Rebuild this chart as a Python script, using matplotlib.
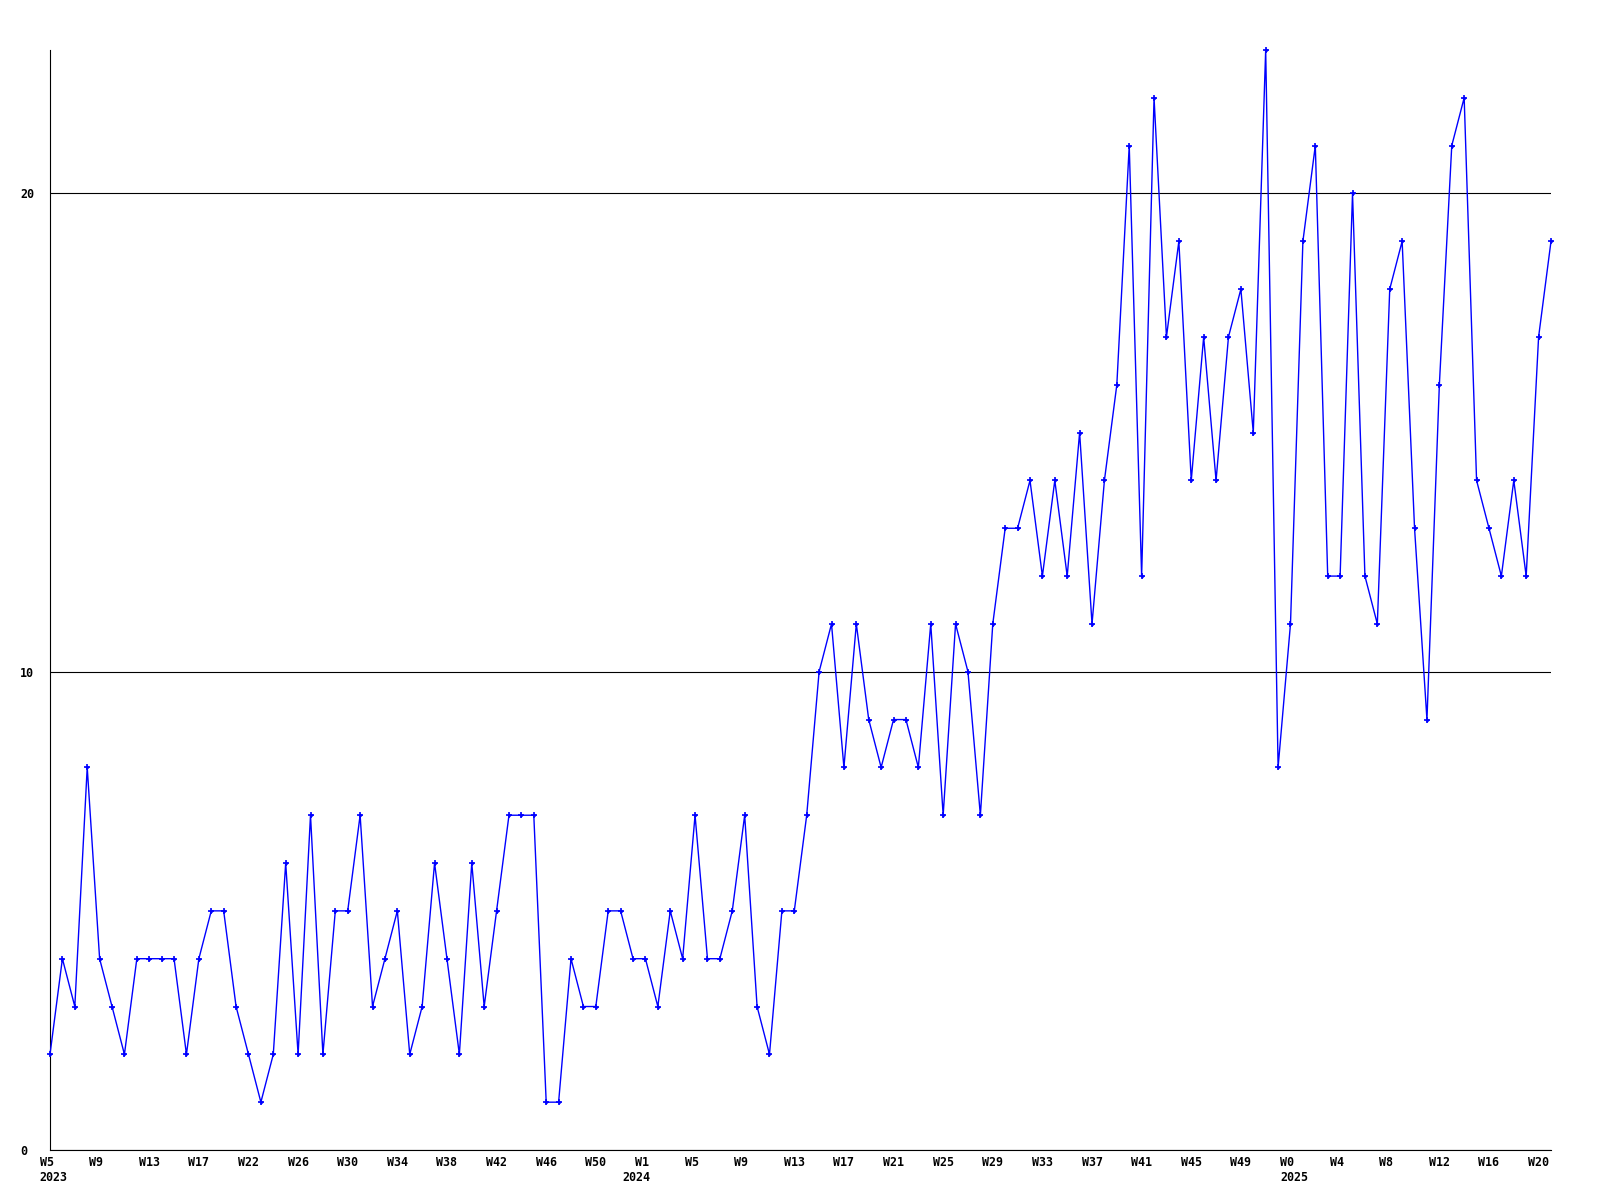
import matplotlib
matplotlib.use("Agg")
import matplotlib.pyplot as plt
import matplotlib.transforms as mtransforms
import numpy as np

# ---- data ----
values = [2, 4, 3, 8, 4, 3, 2, 4, 4, 4, 4, 2, 4, 5, 5, 3, 2, 1, 2, 6,
          2, 7, 2, 5, 5, 7, 3, 4, 5, 2, 3, 6, 4, 2, 6, 3, 5, 7, 7, 7,
          1, 1, 4, 3, 3, 5, 5, 4, 4, 3, 5, 4, 7, 4, 4, 5, 7, 3, 2, 5,
          5, 7, 10, 11, 8, 11, 9, 8, 9, 9, 8, 11, 7, 11, 10, 7, 11, 13, 13, 14,
          12, 14, 12, 15, 11, 14, 16, 21, 12, 22, 17, 19, 14, 17, 14, 17, 18, 15, 23, 8,
          11, 19, 21, 12, 12, 20, 12, 11, 18, 19, 13, 9, 16, 21, 22, 14, 13, 12, 14, 12,
          17, 19]

week_labels = ["W5", "W9", "W13", "W17", "W22", "W26", "W30", "W34", "W38", "W42",
               "W46", "W50", "W1", "W5", "W9", "W13", "W17", "W21", "W25", "W29",
               "W33", "W37", "W41", "W45", "W49", "W0", "W4", "W8", "W12", "W16", "W20"]
week_label_step = 4

year_labels = ["2023", "2024", "2025"]
year_label_index = [0, 47, 100]

y_ticks = [0, 10, 20]
y_max = 23

# ---- style ----
W, H = 1600, 1200
DPI = 100
font = dict(family="DejaVu Sans Mono", weight="bold", size=8.4)

fig = plt.figure(figsize=(W / DPI, H / DPI), dpi=DPI)
fig.patch.set_facecolor("white")
ax = fig.add_axes([50 / W, 1 - 1150 / H, (1551 - 50) / W, (1150 - 50) / H])

x = np.arange(len(values))
ax.plot(x, values, color="#0000ff", lw=1.0, marker="+", ms=4.5, mew=1.2,
        clip_on=False, zorder=3)
ax.plot(x, values, color="#0000ff", ls="none", marker="D", ms=2.2, mew=0,
        clip_on=False, zorder=4)

ax.set_xlim(0, len(values) - 1)
ax.set_ylim(0, y_max)

ax.set_yticks(y_ticks)
ax.set_yticklabels([str(v) for v in y_ticks], fontdict=font)
for lab in ax.get_yticklabels():
    lab.set_horizontalalignment("left")
ax.tick_params(axis="y", length=0, pad=30 * 72 / DPI)

tick_idx = x[::week_label_step][:len(week_labels)]
ax.set_xticks(tick_idx)
ax.set_xticklabels([])
ax.tick_params(axis="x", length=0)

ax.grid(axis="y", color="black", lw=0.8)
ax.grid(axis="x", visible=False)
ax.set_axisbelow(True)

for s in ["top", "right"]:
    ax.spines[s].set_visible(False)
for s in ["left", "bottom"]:
    ax.spines[s].set_color("black")
    ax.spines[s].set_linewidth(0.8)

week_trans = ax.get_xaxis_transform() + mtransforms.ScaledTranslation(
    -10.5 / DPI, -16 / DPI, fig.dpi_scale_trans)
for i, lab in zip(tick_idx, week_labels):
    ax.text(i, 0, lab, transform=week_trans, ha="left", va="baseline",
            fontdict=font, clip_on=False)

year_trans = ax.get_xaxis_transform() + mtransforms.ScaledTranslation(
    -10.5 / DPI, -31 / DPI, fig.dpi_scale_trans)
for i, lab in zip(year_label_index, year_labels):
    ax.text(i, 0, lab, transform=year_trans, ha="left", va="baseline",
            fontdict=font, clip_on=False)

fig.savefig("out.png", dpi=DPI, facecolor="white")
